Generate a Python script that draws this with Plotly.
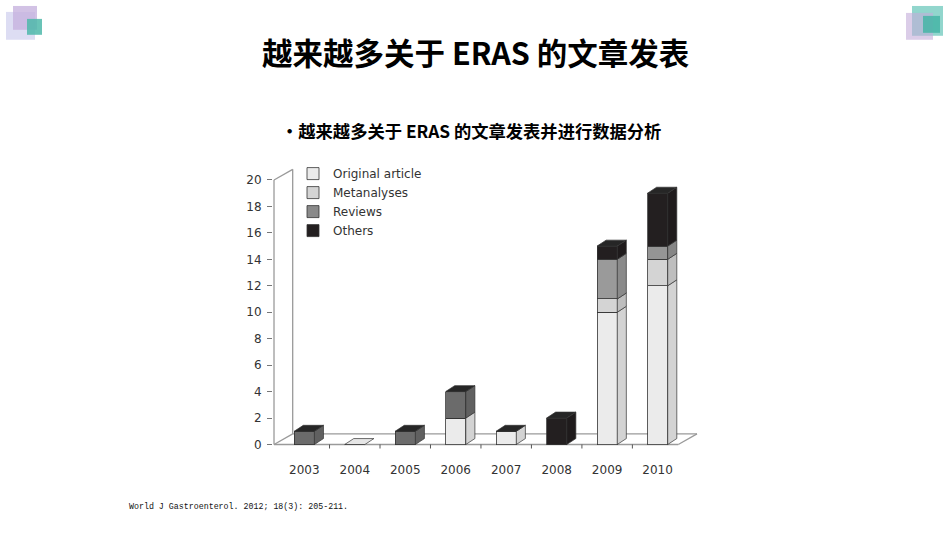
import plotly.graph_objects as go

# data
years = ["2003", "2004", "2005", "2006", "2007", "2008", "2009", "2010"]
original = [0, 0, 0, 2, 1, 0, 10, 12]
metanalyses = [0, 0, 0, 0, 0, 0, 1, 2]
reviews = [1, 0, 1, 2, 0, 0, 3, 1]
others = [0, 0, 0, 0, 0, 2, 1, 4]
y_ticks = list(range(0, 21, 2))

series = [
    ("Original article", original, "#ebebeb"),
    ("Metanalyses", metanalyses, "#d4d4d4"),
    ("Reviews", reviews, "#8a8a8a"),
    ("Others", others, "#231f20"),
]
# reviews look darker in the early years
review_face = ["#6b6b6b", "#6b6b6b", "#6b6b6b", "#6b6b6b", "#8a8a8a", "#8a8a8a", "#9a9a9a", "#959595"]

W = 0.4          # bar width (x units)
DX, DY = 0.18, 0.45   # bar depth offset
FDX, FDY = 0.37, 0.8  # floor / wall depth
X0, X1 = -0.6, 7.41   # floor front edge
YTOP = 20
EDGE = "#333333"
FRAME = "#9a9a9a"


def shade(hex_col, k=0.9):
    r, g, b = (int(hex_col[i:i + 2], 16) for i in (1, 3, 5))
    return "#%02x%02x%02x" % (int(r * k), int(g * k), int(b * k))


fig = go.Figure()
xs = list(range(len(years)))

# front faces
for name, vals, col in series:
    colors = review_face if name == "Reviews" else col
    fig.add_trace(go.Bar(
        x=xs, y=vals, name=name, width=W, showlegend=False,
        marker=dict(color=colors, line=dict(color=EDGE, width=0.8)),
        hoverinfo="skip",
    ))
# legend entries only
for name, vals, col in series:
    fig.add_trace(go.Bar(x=[None], y=[None], name=name,
                         marker=dict(color=col, line=dict(color=EDGE, width=0.8))))

# side and top faces
for i in xs:
    base = 0
    for name, vals, col in series:
        v = vals[i]
        if v <= 0:
            continue
        c = review_face[i] if name == "Reviews" else col
        xr = i + W / 2
        fig.add_trace(go.Scatter(
            x=[xr, xr + DX, xr + DX, xr, xr],
            y=[base, base + DY, base + v + DY, base + v, base],
            mode="lines", fill="toself", fillcolor=shade(c, 0.9),
            line=dict(color=EDGE, width=0.7), showlegend=False, hoverinfo="skip",
        ))
        base += v
    top_col = "#262626" if base > 0 else "#e6e6e6"
    xl = i - W / 2
    fig.add_trace(go.Scatter(
        x=[xl, xl + W, xl + W + DX, xl + DX, xl],
        y=[base, base, base + DY, base + DY, base],
        mode="lines", fill="toself", fillcolor=top_col,
        line=dict(color=EDGE, width=0.7), showlegend=False, hoverinfo="skip",
    ))

# floor, back wall and axis line
frame = [
    (X0, 0, X1, 0), (X1, 0, X1 + FDX, FDY), (X0 + FDX, FDY, X1 + FDX, FDY),
    (X0, 0, X0 + FDX, FDY), (X0 + FDX, FDY, X0 + FDX, YTOP + FDY),
    (X0, YTOP, X0 + FDX, YTOP + FDY), (X0, 0, X0, YTOP),
]
for a, b, c, d in frame:
    fig.add_shape(type="line", x0=a, y0=b, x1=c, y1=d, xref="x", yref="y",
                  layer="below", line=dict(color=FRAME, width=1.3))
for i in xs[:-1]:
    fig.add_shape(type="line", x0=i + 0.5, y0=0, x1=i + 0.5, y1=-0.35, xref="x", yref="y",
                  layer="below", line=dict(color="#555555", width=1))

# corner decorations (paper pixels)
deco = [
    (6, 12, 35, 40, "#d9d9f2", 0.9), (13, 6, 37, 30, "#c7b3de", 0.8), (27, 19, 42, 35, "#4fb8aa", 0.85),
    (912, 6, 943, 36, "#7fcfc4", 0.85), (906, 13, 933, 40, "#c3acd8", 0.6), (923, 16, 940, 33, "#45b5a6", 0.85),
]
for a, b, c, d, col, op in deco:
    fig.add_shape(type="rect", xref="paper", yref="paper",
                  x0=a / 950, x1=c / 950, y0=1 - d / 535, y1=1 - b / 535,
                  fillcolor=col, opacity=op, line=dict(width=0))

fig.add_annotation(text="<b>越来越多关于 ERAS 的文章发表</b>", xref="paper", yref="paper",
                   x=475 / 950, y=1 - 52 / 535, xanchor="center", yanchor="middle", showarrow=False,
                   font=dict(family="Noto Sans CJK SC", size=30.5, color="#000000"))
fig.add_annotation(text="<b>•越来越多关于 ERAS 的文章发表并进行数据分析</b>", xref="paper", yref="paper",
                   x=471 / 950, y=1 - 131 / 535, xanchor="center", yanchor="middle", showarrow=False,
                   font=dict(family="Noto Sans CJK SC", size=17.3, color="#000000"))
fig.add_annotation(text="World J Gastroenterol. 2012; 18(3): 205-211.", xref="paper", yref="paper",
                   x=127 / 950, y=1 - 509 / 535, xanchor="left", yanchor="middle", showarrow=False,
                   font=dict(family="Liberation Mono", size=8.3, color="#111111"))

fig.update_layout(
    width=950, height=535,
    margin=dict(l=0, r=0, t=0, b=0),
    paper_bgcolor="#ffffff", plot_bgcolor="#ffffff",
    barmode="stack", bargap=0.6,
    font=dict(family="DejaVu Sans", size=12, color="#333333"),
    showlegend=True,
    legend=dict(x=293 / 950, y=1 - 160 / 535, xanchor="left", yanchor="top",
                traceorder="normal", bgcolor="rgba(0,0,0,0)",
                font=dict(family="DejaVu Sans", size=12, color="#333333")),
    xaxis=dict(domain=[273 / 950, 698 / 950], range=[-0.62, 7.8],
               tickvals=xs, ticktext=years, showgrid=False, zeroline=False,
               showline=False, ticks="", ticklabelstandoff=13),
    yaxis=dict(domain=[(535 - 451) / 535, (535 - 165) / 535], range=[-0.3, 21.2],
               tickvals=y_ticks, showgrid=False, zeroline=False, showline=False,
               ticks="outside", ticklen=5, tickcolor="#777777", ticklabelstandoff=3),
)

fig.write_html("out.html", config={"displayModeBar": False},
               post_script="document.body.style.margin='0';")
